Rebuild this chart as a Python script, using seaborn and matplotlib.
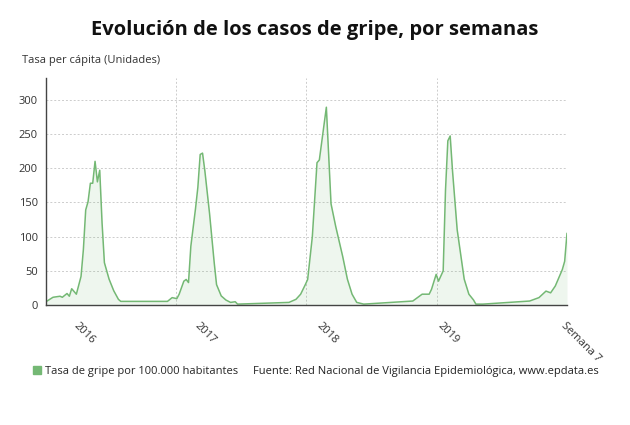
import numpy as np
import pandas as pd
import matplotlib
matplotlib.use('Agg')
import matplotlib.pyplot as plt
import seaborn as sns
from matplotlib.patches import Patch

# semanas desde la semana 40 de 2015 y tasa por 100.000 habitantes
semana = [0, 3, 6, 7, 9, 10, 11, 13, 15, 16, 17, 18, 19, 20, 21, 22, 23, 24, 25, 27, 29, 31, 32,
          52, 54, 56, 57, 59, 60, 61, 62, 64, 65, 66, 67, 68, 70, 72, 73, 75, 77, 79, 81, 82,
          104, 107, 109, 111, 112, 114, 116, 117, 120, 122, 124, 127, 129, 131, 133, 136,
          157, 159, 161, 164, 165, 167, 168, 170, 171, 172, 173, 174, 176, 179, 181, 183, 184, 187,
          207, 211, 214, 216, 218, 219, 221, 222, 223]
tasa = [5, 11.5, 13, 11.5, 17, 13, 24, 16, 42, 81, 139, 151, 178, 178, 210, 180, 197, 120, 62, 38, 21, 8.5, 5.5,
        5.5, 11, 9.5, 16, 35, 37.5, 33, 86, 141, 172, 220, 222, 196, 134, 62, 30, 13.5, 7.5, 4, 5, 1.5,
        4, 8.5, 16, 30, 37.5, 100, 208, 212, 289, 148, 115, 71, 38, 16, 4, 1.5,
        6, 11, 16, 16, 23, 45, 35, 50, 168, 240, 247, 196, 110, 38, 16, 7.5, 1.5, 1.5,
        6, 11, 20.5, 18, 28, 36, 52, 64, 105]

tick_semanas = [14, 66, 118, 170, 223]
tick_labels = ['2016', '2017', '2018', '2019', 'Semana 7']

df = pd.DataFrame({'semana': semana, 'tasa': tasa})

sns.set_theme(style='white')
plt.rcParams['font.family'] = ['Open Sans', 'DejaVu Sans']

verde = '#74b874'
fig = plt.figure(figsize=(6.3, 4.25), dpi=100)
ax = fig.add_axes([0.073, 0.282, 0.827, 0.535])

sns.lineplot(data=df, x='semana', y='tasa', ax=ax, color=verde, linewidth=1.1)
ax.fill_between(df['semana'], df['tasa'], color=verde, alpha=0.12, linewidth=0)

ax.set_xlim(0, 223)
ax.set_ylim(0, 332)
ax.set_yticks(range(0, 301, 50))
ax.set_xticks(tick_semanas)
ax.set_xticklabels(tick_labels, rotation=-45, ha='left', va='top', rotation_mode='anchor')
ax.set_xticks(range(0, 224), minor=True)
ax.tick_params(axis='both', labelsize=8, colors='#333333', length=3, width=0.8)
ax.tick_params(axis='x', which='minor', length=1.5, width=0.5, color='#555555')
ax.tick_params(axis='x', which='major', length=4, pad=7)
ax.tick_params(axis='y', pad=3)
ax.yaxis.grid(True, linestyle=(0, (2, 2)), color='#cccccc', linewidth=0.7)
for xv in np.linspace(0, 223, 5)[1:]:
    ax.axvline(xv, linestyle=(0, (2, 2)), color='#cccccc', linewidth=0.7, zorder=0)
ax.set_axisbelow(True)

for s in ['top', 'right']:
    ax.spines[s].set_visible(False)
for s in ['left', 'bottom']:
    ax.spines[s].set_color('#444444')
    ax.spines[s].set_linewidth(1)
ax.set_xlabel('')
ax.set_ylabel('')

fig.text(0.5, 0.93, 'Evolución de los casos de gripe, por semanas', ha='center', va='center',
         fontsize=14.5, fontweight='bold', color='#111111')
fig.text(0.035, 0.858, 'Tasa per cápita (Unidades)', ha='left', va='center', fontsize=8, color='#333333')

fig.legend(handles=[Patch(color=verde, label='Tasa de gripe por 100.000 habitantes')],
           loc='center left', bbox_to_anchor=(0.045, 0.127), frameon=False, fontsize=8,
           handlelength=0.7, handleheight=0.7, handletextpad=0.4, borderaxespad=0)
fig.text(0.402, 0.127, 'Fuente: Red Nacional de Vigilancia Epidemiológica, www.epdata.es',
         ha='left', va='center', fontsize=8, color='#222222')

fig.savefig('out.png', dpi=100)
